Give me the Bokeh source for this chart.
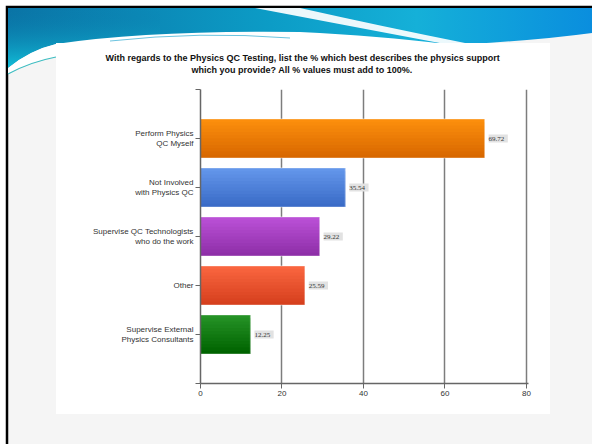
from urllib.parse import quote
from bokeh.plotting import figure
from bokeh.models import ColumnDataSource, FixedTicker, LabelSet, Range1d, Title
from bokeh.embed import file_html
from bokeh.resources import INLINE

# ---------------- data ----------------
categories = [
    "Supervise External\nPhysics Consultants",
    "Other",
    "Supervise QC Technologists\nwho do the work",
    "Not Involved\nwith Physics QC",
    "Perform Physics\nQC Myself",
]
values = [12.25, 25.59, 29.22, 35.54, 69.72]
value_labels = ["12.25", "25.59", "29.22", "35.54", "69.72"]
x_ticks = [0, 20, 40, 60, 80]
top_colors = ["#259226", "#f9653f", "#ba50d6", "#6396ea", "#fc8e0c"]
bottom_colors = ["#006300", "#d6401e", "#8e2fa8", "#3a6bc7", "#d86800"]
title_lines = ["With regards to the Physics QC Testing, list the % which best describes the physics support",
               "which you provide?  All % values must add to 100%."]

FONT = "Liberation Sans"
positions = list(range(1, len(categories) + 1))

p = figure(width=592, height=444, output_backend="svg", toolbar_location=None,
           x_range=Range1d(0, 80.5), y_range=Range1d(0, 6),
           min_border_left=200, min_border_right=64, min_border_top=89, min_border_bottom=61)
p.outline_line_color = None
p.background_fill_color = "white"
p.border_fill_alpha = 0

# slide background (decoration only)
svg = (
    "<svg xmlns='http://www.w3.org/2000/svg' width='592' height='444'>"
    "<defs>"
    "<linearGradient id='h' x1='0' y1='0' x2='1' y2='0'>"
    "<stop offset='0' stop-color='#0a74a6'/><stop offset='0.45' stop-color='#0c9cc6'/>"
    "<stop offset='0.7' stop-color='#15b0d8'/><stop offset='1' stop-color='#0a8ede'/></linearGradient>"
    "<linearGradient id='v' x1='0' y1='0' x2='0' y2='1'>"
    "<stop offset='0' stop-color='#0a74a6' stop-opacity='0'/><stop offset='1' stop-color='#12c4dc' stop-opacity='0.95'/></linearGradient>"
    "</defs>"
    "<rect width='592' height='444' fill='#ffffff'/>"
    "<rect x='7' y='7' width='600' height='460' fill='#f5f5f5' stroke='#000' stroke-width='2.5'/>"
    "<path d='M8,8 H592 V33 Q540,40 470,44 L56,44 Q30,50 8,68 Z' fill='url(#h)'/>"
    "<path d='M8,8 H160 V44 H56 Q30,50 8,68 Z' fill='url(#v)'/>"
    "<path d='M56,44 Q150,30 300,32 Q380,36 445,44 Z' fill='#ffffff'/>"
    "<path d='M8,68 Q30,50 56,44 L56,57 Q30,62 8,74 Z' fill='#ffffff'/>"
    "<path d='M8,74 Q30,62 56,57' fill='none' stroke='#3cbcc0' stroke-width='1.2'/>"
    "<path d='M110,41 Q200,31 290,38' fill='none' stroke='#6cc4e0' stroke-width='1'/>"
    "<path d='M255,8 L300,8 Q380,26 470,44 L445,44 Q360,28 255,8 Z' fill='#ffffff' fill-opacity='0.92'/>"
    "<rect x='56' y='43' width='494' height='371' fill='#ffffff'/>"
    "</svg>"
)
p.styles = {"background-image": "url(\"data:image/svg+xml," + quote(svg) + "\")",
            "background-repeat": "no-repeat"}

# grid
p.ygrid.visible = False
p.xgrid.ticker = FixedTicker(ticks=x_ticks[1:])
p.xgrid.grid_line_color = "#7d7d7d"
p.xgrid.grid_line_width = 1.5


def mix(c1, c2, t):
    a = [int(c1[i:i + 2], 16) for i in (1, 3, 5)]
    b = [int(c2[i:i + 2], 16) for i in (1, 3, 5)]
    return "#%02x%02x%02x" % tuple(round(a[k] + (b[k] - a[k]) * t) for k in range(3))


# bars with vertical gradient (top lighter -> bottom darker); slices overlap to avoid seams
bar_h = 0.8
n = 12
p.hbar(y=positions, right=values, left=0, height=bar_h,
       fill_color=[mix(top_colors[i], bottom_colors[i], 0.5) for i in range(len(values))],
       line_color=None)
for k in range(n - 1):
    t = k / (n - 1)
    top_edge = bar_h / 2 - k * bar_h / n
    src = ColumnDataSource(dict(
        y=[pos + top_edge - bar_h / n for pos in positions],
        right=values,
        color=[mix(top_colors[i], bottom_colors[i], t) for i in range(len(values))],
    ))
    p.hbar(y="y", right="right", left=0, height=2 * bar_h / n,
           source=src, fill_color="color", line_color=None)
src_last = ColumnDataSource(dict(
    y=[pos - bar_h / 2 + bar_h / (2 * n) for pos in positions],
    right=values,
    color=list(bottom_colors),
))
p.hbar(y="y", right="right", left=0, height=bar_h / n, source=src_last,
       fill_color="color", line_color=None)

outline_src = ColumnDataSource(dict(y=positions, right=values))
p.hbar(y="y", right="right", left=0, height=bar_h, source=outline_src,
       fill_color=None, line_color="#ffffff", line_alpha=0.45, line_width=1)

# value labels (grey boxes)
lab_src = ColumnDataSource(dict(x=values, y=positions, text=[" %s " % s for s in value_labels]))
p.add_layout(LabelSet(x="x", y="y", text="text", source=lab_src, x_offset=4,
                      text_baseline="middle", text_align="left", text_font=FONT,
                      text_font_size="7px", text_color="#333333",
                      background_fill_color="#e2e2e2", text_line_height=1.6))

# axes
p.yaxis.ticker = FixedTicker(ticks=[0] + positions + [6])
overrides = {0: "", 6: ""}
for pos, c in zip(positions, categories):
    overrides[pos] = c
p.yaxis.major_label_overrides = overrides
p.yaxis.major_label_text_font = FONT
p.yaxis.major_label_text_font_size = "8px"
p.yaxis.major_label_text_color = "#333333"
p.yaxis.major_label_standoff = 2
p.yaxis.major_tick_out = 5
p.yaxis.major_tick_in = 0
p.yaxis.minor_tick_line_color = None
p.yaxis.axis_line_color = "#666666"
p.yaxis.axis_line_width = 1.5
p.yaxis.major_tick_line_color = "#666666"

p.xaxis.ticker = FixedTicker(ticks=x_ticks)
p.xaxis.major_label_text_font = FONT
p.xaxis.major_label_text_font_size = "8px"
p.xaxis.major_label_text_color = "#333333"
p.xaxis.major_label_standoff = 2
p.xaxis.major_tick_out = 5
p.xaxis.major_tick_in = 0
p.xaxis.minor_tick_line_color = None
p.xaxis.axis_line_color = "#666666"
p.xaxis.axis_line_width = 1.5
p.xaxis.major_tick_line_color = "#666666"

# title: a small spacer next to the frame, then two lines, each shifted left so
# that both are centred over the white panel
p.add_layout(Title(text=" ", standoff=3, text_font_size="9px"), "above")
line_offsets = [-95, -9]
for i in reversed(range(len(title_lines))):
    p.add_layout(Title(text=title_lines[i], align="left", offset=line_offsets[i],
                       standoff=0, text_font=FONT, text_font_size="9px",
                       text_font_style="bold", text_color="#111111"), "above")

open("out.html", "w").write(file_html(p, INLINE))
